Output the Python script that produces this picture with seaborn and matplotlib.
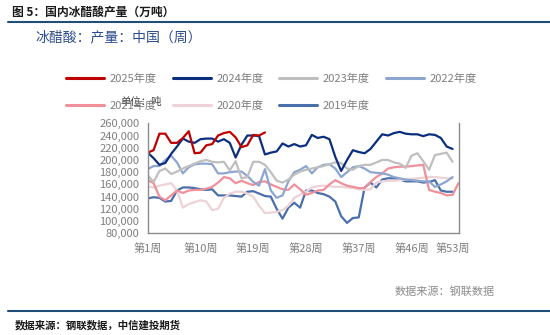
import numpy as np
import pandas as pd
import matplotlib
matplotlib.use("Agg")
import matplotlib.pyplot as plt
import seaborn as sns
from matplotlib.ticker import FuncFormatter
from matplotlib.lines import Line2D

years = ["2025年度", "2024年度", "2023年度", "2022年度", "2021年度", "2020年度", "2019年度"]

v2025 = [212, 216, 243, 243, 228, 228, 236, 247, 211, 212, 224, 226, 240, 244, 246, 237, 221, 224, 241, 240, 245]
v2024 = [212, 203, 192, 195, 210, 222, 235, 230, 228, 234, 235, 235, 230, 234, 228, 204, 225, 240, 240, 239,
         209, 212, 214, 227, 222, 226, 222, 224, 241, 236, 238, 234, 205, 182, 200, 216, 213, 211, 218, 230,
         242, 240, 244, 246, 243, 242, 242, 239, 242, 241, 236, 222, 218]
v2023 = [175, 164, 182, 186, 177, 181, 186, 190, 194, 198, 200, 197, 196, 197, 183, 198, 170, 172, 197, 197,
         192, 180, 166, 163, 168, 176, 181, 184, 186, 188, 190, 193, 196, 195, 186, 184, 190, 192, 192, 196,
         200, 200, 196, 194, 187, 207, 211, 198, 184, 208, 210, 212, 197]
v2022 = [185, 190, 190, 200, 207, 196, 178, 188, 193, 194, 194, 193, 178, 178, 180, 181, 181, 174, 164, 158,
         185, 150, 138, 142, 165, 180, 184, 190, 178, 188, 192, 193, 186, 172, 180, 188, 190, 186, 180, 179,
         178, 176, 172, 170, 168, 167, 166, 165, 165, 156, 160, 165, 172]
v2021 = [167, 162, 140, 134, 142, 150, 146, 150, 151, 151, 153, 156, 163, 172, 170, 162, 166, 162, 159, 164,
         165, 160, 156, 152, 151, 160, 152, 143, 146, 150, 151, 160, 167, 162, 158, 156, 154, 154, 164, 172,
         178, 186, 188, 189, 189, 190, 191, 192, 151, 148, 146, 142, 143, 162]
v2020 = [157, 155, 158, 160, 162, 150, 122, 128, 131, 134, 132, 118, 120, 138, 145, 148, 148, 145, 140, 125,
         113, 114, 115, 118, 125, 138, 143, 148, 155, 157, 158, 157, 156, 156, 155, 154, 152, 151, 152, 163,
         165, 166, 166, 167, 168, 169, 170, 171, 172, 172, 171, 170, 170]
v2019 = [137, 139, 138, 132, 133, 150, 155, 155, 154, 152, 151, 152, 142, 142, 142, 141, 140, 148, 149, 145,
         141, 140, 120, 104, 122, 130, 122, 150, 150, 146, 144, 140, 132, 108, 97, 105, 106, 155, 163, 155,
         168, 170, 170, 168, 165, 165, 165, 163, 164, 167, 150, 148, 148]

series = [v2025, v2024, v2023, v2022, v2021, v2020, v2019]
colors = ["#C00000", "#0B2F7E", "#BFBFBF", "#8DA6CF", "#F0909A", "#EDD3D7", "#4B6FAB"]

xtick_weeks = [1, 10, 19, 28, 37, 46, 53]
xtick_labels = ["第1周", "第10周", "第19周", "第28周", "第37周", "第46周", "第53周"]
yticks = [80000, 100000, 120000, 140000, 160000, 180000, 200000, 220000, 240000, 260000]

rows = []
for name, vals in zip(years, series):
    for i, v in enumerate(vals):
        rows.append({"year": name, "week": i + 1, "value": v * 1000})
df = pd.DataFrame(rows)

sns.set_style("white")
plt.rcParams['font.family'] = ['Noto Sans CJK SC', 'DejaVu Sans']

fig = plt.figure(figsize=(5.5, 3.35), dpi=100)
ax = fig.add_axes([147.7 / 550, 1 - 233.3 / 335, (459 - 147.7) / 550, (233.3 - 123.3) / 335])

palette = dict(zip(years, colors))
# draw from back (2019) to front (2025)
sns.lineplot(data=df, x="week", y="value", hue="year", hue_order=years[::-1],
             palette=palette, linewidth=1.6, ax=ax, legend=False, sort=True)
for ln in ax.get_lines():
    ln.set_solid_joinstyle("round")
    ln.set_solid_capstyle("round")

ax.set_xlim(1, 54.1)
ax.set_ylim(80000, 260000)
ax.set_xticks(xtick_weeks)
ax.set_xticklabels(xtick_labels)
ax.set_yticks(yticks)
ax.yaxis.set_major_formatter(FuncFormatter(lambda v, p: f"{int(v):,}"))
ax.set_xlabel("")
ax.set_ylabel("")
for s in ["left", "bottom", "right"]:
    ax.spines[s].set_color("#8C8C8C")
    ax.spines[s].set_linewidth(1.0)
ax.spines["top"].set_visible(False)
ax.tick_params(axis="both", which="both", direction="out", length=4, width=1,
               color="#8C8C8C", labelcolor="#7F7F7F", labelsize=8, pad=2)
ax.tick_params(axis="x", pad=3)
ax.grid(False)

# legend, row-wise order: row1 2025,2024,2023,2022 ; row2 2021,2020,2019
order = [0, 4, 1, 5, 2, 6, 3]
handles = [Line2D([0], [0], color=colors[i], lw=2.2, solid_capstyle="round") for i in order]
labels = [years[i] for i in order]
leg = fig.legend(handles, labels, ncol=4, loc="upper left",
                 bbox_to_anchor=(62 / 550, 1 - 69 / 335), frameon=False,
                 fontsize=8, handlelength=3.4, handletextpad=0.5,
                 columnspacing=1.45, labelspacing=1.5, borderaxespad=0)
for t in leg.get_texts():
    t.set_color("#7F7F7F")

# titles and annotations
fig.text(12 / 550, 1 - 12 / 335, "图 5：国内冰醋酸产量（万吨）", fontsize=8.5,
         fontweight="bold", color="#1A1A1A", va="center", ha="left")
fig.add_artist(Line2D([8 / 550, 1.0], [1 - 22 / 335, 1 - 22 / 335],
                      color="#1F4E79", lw=1.5, transform=fig.transFigure))
fig.text(35 / 550, 1 - 37 / 335, "冰醋酸：产量：中国（周）", fontsize=10,
         color="#2B4C8C", va="center", ha="left")
fig.text(120 / 550, 1 - 102 / 335, "单位：吨", fontsize=7.5,
         color="#404040", va="center", ha="left")
fig.text(495 / 550, 1 - 292 / 335, "数据来源：钢联数据", fontsize=8,
         color="#8C8C8C", va="center", ha="right")
fig.add_artist(Line2D([8 / 550, 1.0], [1 - 311 / 335, 1 - 311 / 335],
                      color="#1F4E79", lw=1.5, transform=fig.transFigure))
fig.text(15 / 550, 1 - 325 / 335, "数据来源：钢联数据，中信建投期货", fontsize=7.5,
         fontstyle="italic", fontweight="bold", color="#1A1A1A", va="center", ha="left")

fig.savefig("out.png", dpi=100)
